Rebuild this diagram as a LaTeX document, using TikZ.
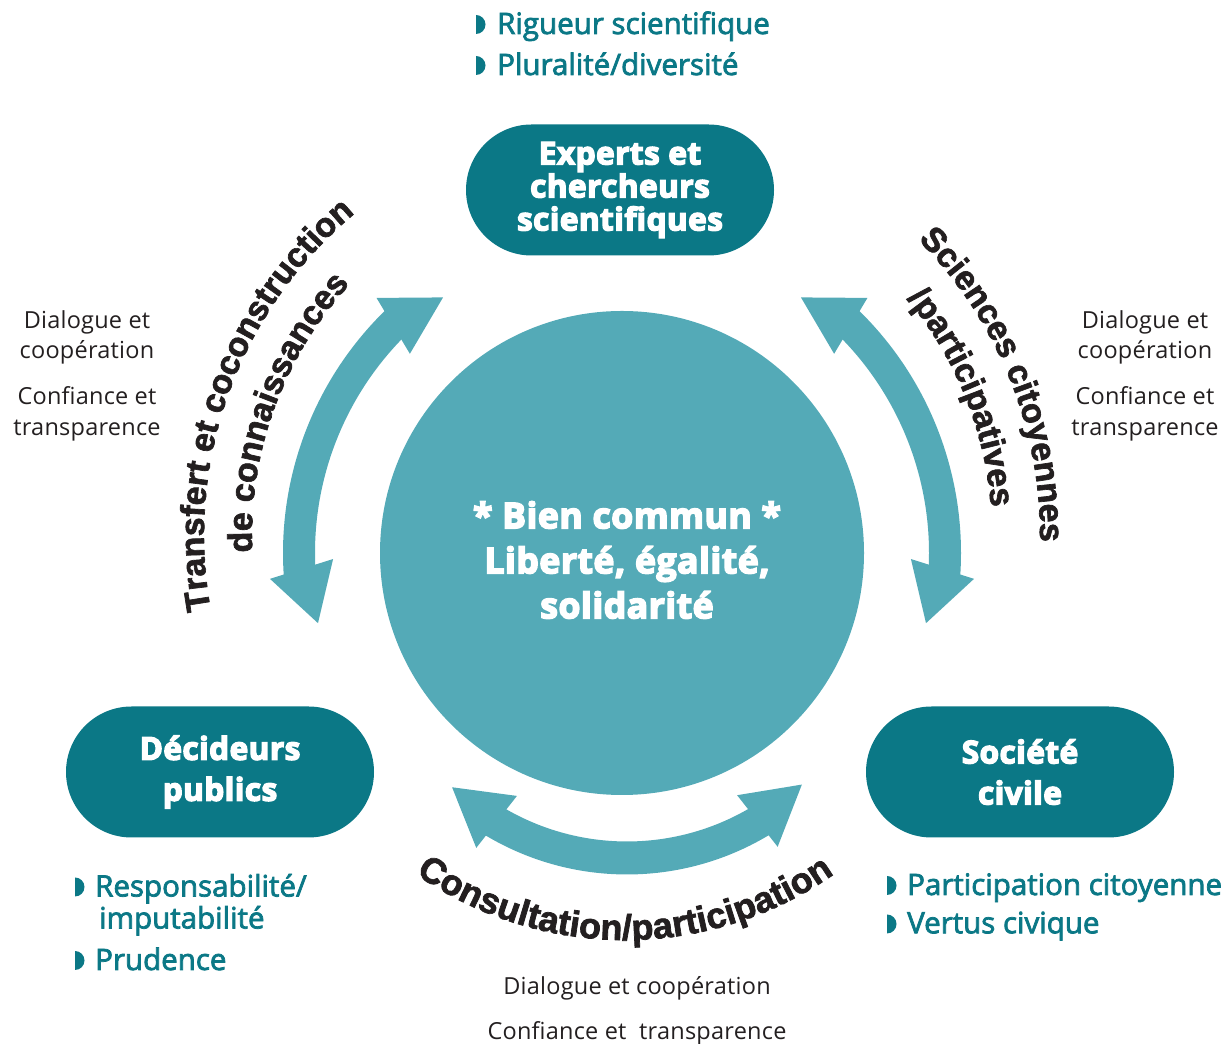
\documentclass[tikz,border=0pt]{standalone}
\usepackage{fontspec}
\setmainfont{Open Sans}
\newfontfamily\curvefont{Liberation Sans}[FakeBold=2]
\newfontfamily\heavyfont{Open Sans}[FakeBold=4.5,LetterSpace=1.5]
\newfontfamily\medfont{Open Sans}[FakeBold=2.5]
\newfontfamily\lightfont{Open Sans}[LetterSpace=1]
\usetikzlibrary{shapes.misc,decorations.text}
\definecolor{darkteal}{HTML}{0B7886}
\definecolor{lightteal}{HTML}{54AAB7}
\definecolor{ink}{HTML}{231F20}
\newcommand\cf{\curvefont\bfseries\fontsize{34}{34}\selectfont}
\newcommand\cfb{\curvefont\bfseries\fontsize{36}{36}\selectfont}
\newcommand\halfdisc[2]{\fill[darkteal] (#1,#2-9.5) arc[start angle=-90,end angle=90,x radius=9.5,y radius=9.5] -- cycle;}
\begin{document}
\begin{tikzpicture}[x=1pt,y=1pt,
  pill/.style={rounded rectangle, fill=darkteal, minimum width=308pt, minimum height=131pt, inner sep=0pt, text=white, align=center, font=\heavyfont\bfseries\fontsize{31.5}{33}\selectfont},
  pilltwo/.style={pill, font=\heavyfont\bfseries\fontsize{31.5}{41}\selectfont},
  bultext/.style={anchor=base west, inner sep=0pt, text=darkteal, font=\medfont\fontsize{29.5}{29.5}\selectfont},
  lighttext/.style={anchor=base, inner sep=0pt, text=ink, font=\lightfont\fontsize{23.5}{23.5}\selectfont},
  arrowband/.style={draw=lightteal, line width=32pt},
  arrowhead/.style={fill=lightteal},
  curvetext/.style={decorate, decoration={text along path, text align=center, text color=ink, text={#1}}}]
\useasboundingbox (0,0) rectangle (1227,1044);

% central circle
\node[circle, fill=lightteal, minimum size=484pt, inner sep=0pt] (core) at (622,491) {};
\node[align=center, text=white, inner sep=0pt, font=\heavyfont\bfseries\fontsize{35.5}{45}\selectfont] (bien) at (627,484) {* Bien commun *\\Liberté, égalité,\\solidarité};

% actor pills
\node[pill] (experts) at (620,854) {Experts et\\chercheurs\\scientifiques};
\node[pilltwo] (decideurs) at (220,272) {Décideurs\\publics};
\node[pilltwo] (societe) at (1020,272) {Société\\civile};

% side arrows
\begin{scope}[shift={(622,491)}]
  \draw[arrowband] (134:323) arc[start angle=134, end angle=184, radius=323];
  \fill[arrowhead] (125:312) -- (133.9:354) -- (136.8:291) -- cycle;
  \fill[arrowhead] (193:312) -- (184.2:353) -- (181.2:289) -- cycle;
  \draw[arrowband] (46:323) arc[start angle=46, end angle=-4, radius=323];
  \fill[arrowhead] (55:312) -- (46.1:354) -- (43.2:291) -- cycle;
  \fill[arrowhead] (-13:312) -- (-4.2:353) -- (-1.2:289) -- cycle;
\end{scope}
% bottom arrow
\begin{scope}[shift={(627,445)}]
  \draw[arrowband, line width=33pt] (-121.5:259) arc[start angle=-121.5, end angle=-58.5, radius=259];
  \fill[arrowhead] (-132.9:257) -- (-119.2:225.6) -- (-121.2:291) -- cycle;
  \fill[arrowhead] (-46.7:255) -- (-60.7:225) -- (-58.7:290) -- cycle;
\end{scope}

% curved labels
\begin{scope}[shift={(622,509)}]
  \path[curvetext={|\cf|Transfert et coconstruction}] (200:418) arc[start angle=200, end angle=120, radius=418];
  \path[curvetext={|\cf|de connaissances}] (200:370) arc[start angle=200, end angle=120, radius=370];
  \path[curvetext={|\cf|Sciences citoyennes}] (62:418) arc[start angle=62, end angle=-18, radius=418];
  \path[curvetext={|\cf|/participatives}] (62:370) arc[start angle=62, end angle=-18, radius=370];
\end{scope}
\begin{scope}[shift={(625,469)}]
  \path[curvetext={|\cfb|Consultation/participation}] (-140:365) arc[start angle=-140, end angle=-40, radius=365];
\end{scope}

% bullet lists
\halfdisc{476}{1019.5}
\halfdisc{476}{978.5}
\node[bultext] (rigueur) at (497,1010) {Rigueur scientifique};
\node[bultext] (pluralite) at (497,969) {Pluralité/diversité};
\halfdisc{75}{157}
\halfdisc{75}{83.5}
\node[bultext] (respons) at (95,147.5) {Responsabilité/};
\node[bultext] (imput) at (99,115.5) {imputabilité};
\node[bultext] (prudence) at (95,74) {Prudence};
\halfdisc{887}{158.5}
\halfdisc{887}{120}
\node[bultext] (particip) at (907,149) {Participation citoyenne};
\node[bultext] (vertus) at (907,110.7) {Vertus civique};

% relation qualities
\node[lighttext] (dl1) at (87,715) {Dialogue et};
\node[lighttext] (dl2) at (87,685) {coopération};
\node[lighttext] (dl3) at (87,639) {Confiance et};
\node[lighttext] (dl4) at (87,608) {transparence};
\node[lighttext] (dr1) at (1145,715) {Dialogue et};
\node[lighttext] (dr2) at (1145,685) {coopération};
\node[lighttext] (dr3) at (1145,639) {Confiance et};
\node[lighttext] (dr4) at (1145,608) {transparence};
\node[lighttext] (db1) at (637,49) {Dialogue et coopération};
\node[lighttext] (db2) at (637,4) {Confiance et~ transparence};
\end{tikzpicture}
\end{document}
